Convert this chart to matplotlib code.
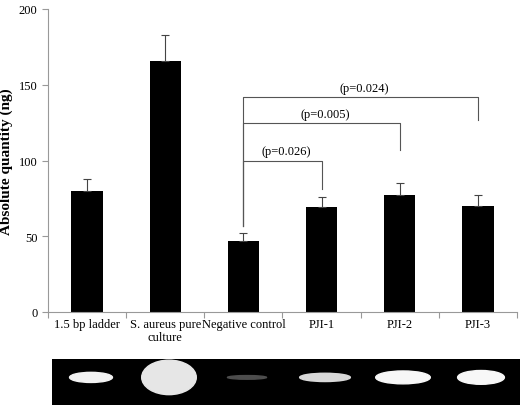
import matplotlib
matplotlib.use("Agg")
import matplotlib.pyplot as plt
from matplotlib.patches import Ellipse

categories = ["1.5 bp ladder", "S. aureus pure\nculture", "Negative control", "PJI-1", "PJI-2", "PJI-3"]
values = [80, 166, 47, 69, 77, 70]
errors = [8, 17, 5, 7, 8, 7]
yticks = [0, 50, 100, 150, 200]
comparisons = [(2, 3, 100, 81, "(p=0.026)"), (2, 4, 125, 107, "(p=0.005)"), (2, 5, 142, 127, "(p=0.024)")]
band_width = [0.55, 0.7, 0.5, 0.65, 0.7, 0.6]
band_height = [0.22, 0.75, 0.08, 0.18, 0.28, 0.3]
band_gray = [0.95, 0.9, 0.3, 0.85, 0.97, 0.97]

plt.rcParams['font.family'] = ['Liberation Serif', 'DejaVu Serif']
fig = plt.figure(figsize=(5.2, 4.06), dpi=100)
ax = fig.add_axes([48/520, 1-313/406, 469/520, 303/406])
x = list(range(len(categories)))
ax.bar(x, values, width=0.4, color="black", zorder=2)
ax.errorbar(x, values, yerr=[[0]*6, errors], fmt="none", ecolor="#444444", elinewidth=0.8, capsize=3, capthick=0.8)
ax.set_xlim(-0.5, 5.5)
ax.set_ylim(0, 200)
ax.set_yticks(yticks)
ax.set_xticks([i + 0.5 for i in range(-1, 6)], minor=False, labels=[""] * 7)
ax.set_xticks(x, minor=True, labels=categories, fontsize=9)
ax.tick_params(axis="x", which="minor", length=0, pad=4)
ax.tick_params(axis="x", which="major", length=4, color="#999999")
ax.tick_params(axis="y", labelsize=9, length=4, color="#999999")
for s in ["top", "right"]:
    ax.spines[s].set_visible(False)
for s in ["left", "bottom"]:
    ax.spines[s].set_color("#999999")
ax.set_ylabel("Absolute quantity (ng)", fontsize=11, fontweight="bold")
for a, b, h, leg, t in comparisons:
    ax.plot([a, a, b, b], [values[a] + errors[a] + 5, h, h, leg], color="#555555", lw=0.8)
    ax.text((a + b) / 2 + 0.05, h + 2, t, ha="center", va="bottom", fontsize=9)

gel = fig.add_axes([52/520, 0, 468/520, 46/406])
gel.set_facecolor("black")
gel.set_xlim(-0.5, 5.5)
gel.set_ylim(0, 1)
for i in x:
    g = band_gray[i]
    gel.add_patch(Ellipse((i, 0.6), band_width[i], band_height[i], color=(g, g, g)))
gel.set_xticks([]); gel.set_yticks([])
for s in gel.spines.values():
    s.set_visible(False)
fig.savefig("out.png", dpi=100)
